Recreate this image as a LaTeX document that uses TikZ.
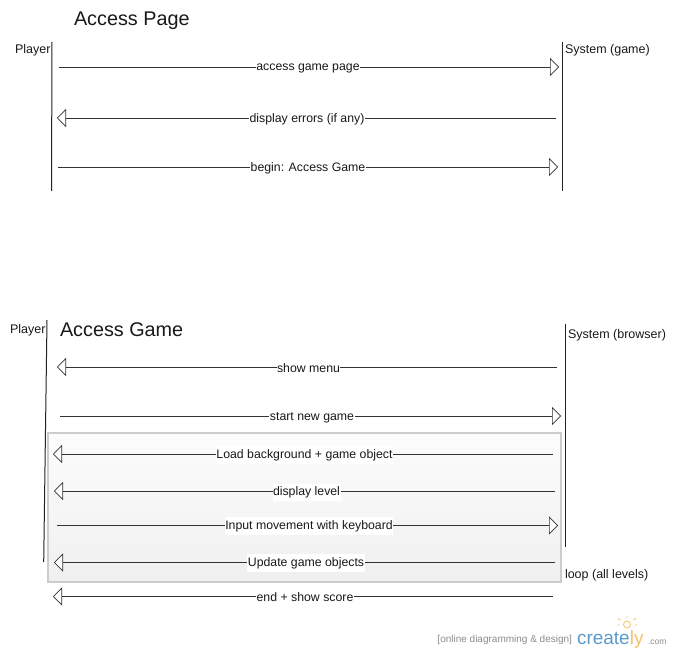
\documentclass[tikz,border=0pt]{standalone}
\usepackage{fontspec}
\setmainfont{Liberation Sans}
\usetikzlibrary{arrows.meta}
\definecolor{lifeline}{HTML}{222222}
\definecolor{boxedge}{HTML}{CCCCCC}
\definecolor{crblue}{HTML}{5A9BCB}
\definecolor{crorange}{HTML}{F7C26B}
\tikzset{
  every node/.style={inner sep=0pt,outer sep=0pt,text=black!90},
  msg/.style={draw=black!80,line width=.9pt,-{Triangle[open,length=9pt,width=18pt,fill=white,line width=.7pt]}},
  life/.style={draw=lifeline,line width=1pt},
  lbl/.style={font=\fontsize{12.3}{14}\selectfont,fill=white,inner xsep=.5pt,inner ysep=3pt},
  actor/.style={font=\fontsize{12.5}{14}\selectfont,anchor=west},
  ttl/.style={font=\fontsize{19.8}{23}\selectfont,anchor=west},
  bulb/.style={draw=crorange,line width=.8pt}
}
\begin{document}
\begin{tikzpicture}[x=1pt,y=-1pt]
\useasboundingbox[fill=white] (0,0) rectangle (675,655);
% loop box
\node[draw=boxedge,line width=2pt,top color=black!1,bottom color=black!6,minimum width=513pt,minimum height=149pt,anchor=north west] (loopbox) at (48,433) {};
% titles and actors
\node[ttl] (t1) at (74,20.5) {Access Page};
\node[ttl] (t2) at (60,329.5) {Access Game};
\node[actor] (p1) at (15,50) {Player};
\node[actor] (s1) at (565,50) {System (game)};
\node[actor] (p2) at (10,330) {Player};
\node[actor] (s2) at (568,335) {System (browser)};
\node[actor] (lp) at (565,575) {loop (all levels)};
% lifelines
\coordinate (pa) at (52,42); \coordinate (pb) at (51.5,191);
\coordinate (sa) at (562,42); \coordinate (sb) at (562,191);
\coordinate (qa) at (47,320); \coordinate (qb) at (43.7,562);
\coordinate (ra) at (565.5,324); \coordinate (rb) at (565.5,547);
\draw[life] (pa) -- (pb);
\draw[life] (sa) -- (sb);
\draw[life] (qa) -- (qb);
\draw[life] (ra) -- (rb);
% messages
\coordinate (a1) at (59,67);    \coordinate (a2) at (559,67);
\coordinate (b1) at (556,118);  \coordinate (b2) at (57,118);
\coordinate (c1) at (58,167);   \coordinate (c2) at (558,167);
\coordinate (d1) at (557,367);  \coordinate (d2) at (57,367);
\coordinate (e1) at (60,416);   \coordinate (e2) at (561,416);
\coordinate (f1) at (553,454);  \coordinate (f2) at (53,454);
\coordinate (g1) at (555,491);  \coordinate (g2) at (54,491);
\coordinate (h1) at (57,525.5); \coordinate (h2) at (558,525.5);
\coordinate (i1) at (555,562.5);\coordinate (i2) at (54,562.5);
\coordinate (j1) at (553,596.5);\coordinate (j2) at (53,596.5);
\draw[msg] (a1) -- (a2);
\draw[msg] (b1) -- (b2);
\draw[msg] (c1) -- (c2);
\draw[msg] (d1) -- (d2);
\draw[msg] (e1) -- (e2);
\draw[msg] (f1) -- (f2);
\draw[msg] (g1) -- (g2);
\draw[msg] (h1) -- (h2);
\draw[msg] (i1) -- (i2);
\draw[msg] (j1) -- (j2);
\node[lbl] (la) at (308,68) {access game page};
\node[lbl] (lb) at (307,119) {display errors (if any)};
\node[lbl] (lc) at (308,168) {begin: Access Game};
\node[lbl] (ld) at (308.5,368.5) {show menu};
\node[lbl] (le) at (312,417.5) {start new game};
\node[lbl] (lf) at (304.5,455) {Load background + game object};
\node[lbl] (lg) at (306.5,492.5) {display level};
\node[lbl] (lh) at (309,526) {Input movement with keyboard};
\node[lbl] (li) at (306,563) {Update game objects};
\node[lbl] (lj) at (305,597.5) {end + show score};
% watermark
\node[font=\fontsize{10}{12}\selectfont,text=black!45,anchor=east] (w1) at (572,640) {[online diagramming \& design]};
\node[font=\fontsize{19}{22}\selectfont,text=crblue,anchor=base west] (w2) at (577,644) {create\textcolor{crorange}{ly}};
\node[font=\fontsize{8.5}{10}\selectfont,text=black!45,anchor=base west] (w3) at (648,644) {.com};
\draw[bulb] (627,624.5) circle (3.5);
\draw[bulb] (627,618) -- (627,615.5) (620.5,620) -- (618,618.5) (633.5,620) -- (636,618.5) (619.5,625) -- (617,625) (634.5,625) -- (637,625);
\end{tikzpicture}
\end{document}
